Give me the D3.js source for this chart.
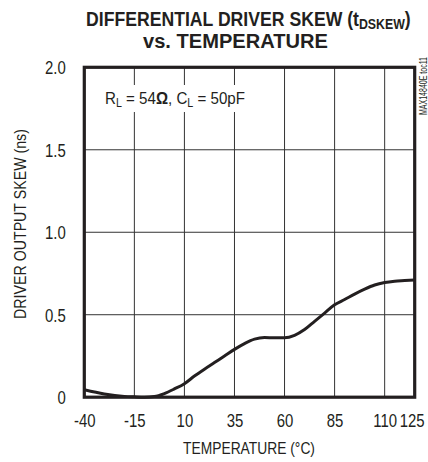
<!DOCTYPE html>
<html><head><meta charset="utf-8">
<script src="https://cdn.jsdelivr.net/npm/d3@7"></script>
<style>
body{margin:0;background:#fff;}
svg{display:block;}
</style></head>
<body><svg id="c" width="428" height="462"></svg>
<script>
const temps = [-40,-30,-20,-15,-10,-5,0,5,10,15,20,25,30,35,40,45,50,55,60,65,70,75,80,85,90,95,100,105,110,115,120,125];
const skew  = [0.045,0.02,0.005,0.002,0.0,0.004,0.022,0.05,0.082,0.128,0.17,0.21,0.25,0.29,0.325,0.352,0.362,0.36,0.36,0.375,0.41,0.46,0.51,0.56,0.592,0.625,0.655,0.68,0.695,0.703,0.707,0.711];
const xTicks = [-40,-15,10,35,60,85,110,125];
const xTickLabels = ["-40","-15","10","35","60","85","110","125"];
const yTicks = [0,0.5,1.0,1.5,2.0];
const yTickLabels = ["0","0.5","1.0","1.5","2.0"];

const svg = d3.select("#c");
const L=84.3,R=414.7,T=67.3,B=397.2;
const x = d3.scaleLinear().domain([-40,125]).range([L,R]);
const y = d3.scaleLinear().domain([0,2]).range([B,T]);
const ink = "#231f20";
const sans = "'Liberation Sans',Arial,Helvetica,sans-serif";
const K = 0.83; // condensed look

function label(px, py, rot, anchor, size, weight, w, k, build){
  const g = svg.append("g").attr("transform",`translate(${px},${py})${rot?` rotate(${rot})`:""}`);
  const t = g.append("text").attr("text-anchor",anchor).attr("font-family",sans)
    .attr("font-size",size).attr("font-weight",weight).attr("fill",ink);
  build(t);
  let s = k;
  if (w) s = w / t.node().getComputedTextLength();
  t.attr("transform",`scale(${s},1)`);
  return t;
}

// grid
svg.append("g").selectAll("line").data(xTicks.filter(d=>d>-40&&d<125)).join("line")
  .attr("x1",d=>x(d)).attr("x2",d=>x(d)).attr("y1",T).attr("y2",B)
  .attr("stroke","#333").attr("stroke-width",1);
svg.append("g").selectAll("line").data(yTicks.filter(d=>d>0&&d<2)).join("line")
  .attr("y1",d=>y(d)).attr("y2",d=>y(d)).attr("x1",L).attr("x2",R)
  .attr("stroke","#333").attr("stroke-width",1);

// white box behind annotation (gridlines interrupted)
svg.append("rect").attr("x",100).attr("y",85).attr("width",152).attr("height",27).attr("fill","#fff");

// curve
svg.append("path").datum(temps.map((t,i)=>[t,skew[i]]))
  .attr("d",d3.line().x(d=>x(d[0])).y(d=>y(d[1])).curve(d3.curveMonotoneX))
  .attr("fill","none").attr("stroke",ink).attr("stroke-width",3);

// frame
svg.append("rect").attr("x",L).attr("y",T).attr("width",R-L).attr("height",B-T)
  .attr("fill","none").attr("stroke",ink).attr("stroke-width",3.2);

// axes
const xa = svg.append("g").attr("transform",`translate(0,${B})`)
  .call(d3.axisBottom(x).tickValues(xTicks).tickSize(0).tickPadding(0).tickFormat((d,i)=>xTickLabels[i]));
xa.select(".domain").remove();
xa.selectAll("text").attr("y",30).attr("dy",0).attr("font-family",sans).attr("font-size",18).attr("fill",ink)
  .attr("x",(d,i)=> (i===xTicks.length-1 ? -3 : 0)/K)
  .attr("transform",`scale(${K},1)`);

const ya = svg.append("g").attr("transform",`translate(${L},0)`)
  .call(d3.axisLeft(y).tickValues(yTicks).tickSize(0).tickPadding(0).tickFormat((d,i)=>yTickLabels[i]));
ya.select(".domain").remove();
ya.selectAll("text").attr("x",-18.5/K).attr("dy","0.36em").attr("font-family",sans).attr("font-size",18).attr("fill",ink)
  .attr("transform",`scale(${K},1)`);

// axis titles
label(249,454,0,"middle",17,"normal",132,null,t=>t.text("TEMPERATURE (°C)"));
label(26,224,-90,"middle",17,"normal",190,null,t=>t.text("DRIVER OUTPUT SKEW (ns)"));

// title
label(86,26,0,"start",20,"bold",325,null,t=>{
  t.append("tspan").text("DIFFERENTIAL DRIVER SKEW (t");
  t.append("tspan").attr("font-size",14).attr("dy",3).text("DSKEW");
  t.append("tspan").attr("dy",-3).text(")");
});
label(143,48,0,"start",20,"bold",185,null,t=>t.text("vs. TEMPERATURE"));

// annotation
label(105,104,0,"start",17,"normal",140,null,t=>{
  t.append("tspan").text("R");
  t.append("tspan").attr("font-size",12).attr("dy",3).text("L");
  t.append("tspan").attr("dy",-3).text(" = 54");
  t.append("tspan").attr("font-weight","bold").text("Ω");
  t.append("tspan").text(", C");
  t.append("tspan").attr("font-size",12).attr("dy",3).text("L");
  t.append("tspan").attr("dy",-3).text(" = 50pF");
});

// side id
label(427,86,-90,"middle",11,"normal",58,null,t=>t.text("MAX14840E toc11"));
</script></body></html>
